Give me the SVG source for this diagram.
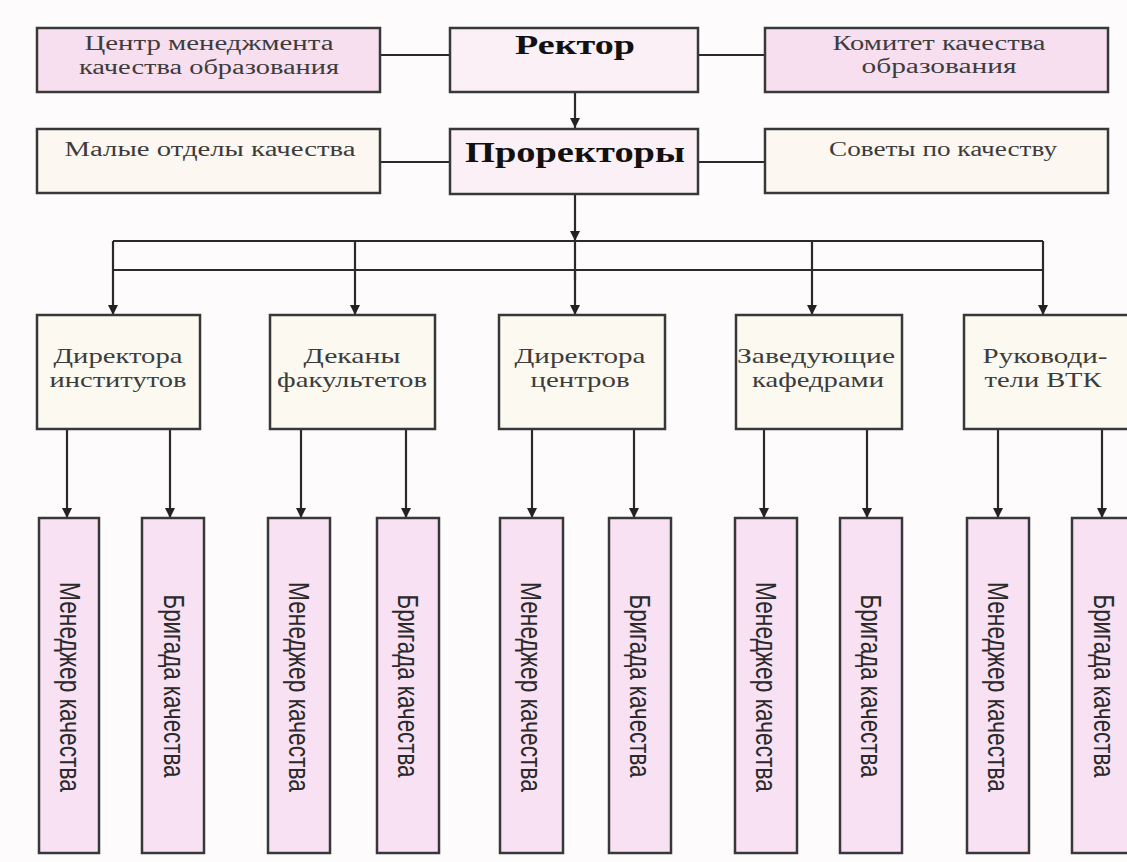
<svg xmlns="http://www.w3.org/2000/svg" width="1127" height="862" viewBox="0 0 1127 862">
<defs>
<marker id="ah" viewBox="0 0 10 10" refX="10" refY="5" markerWidth="10" markerHeight="10" markerUnits="userSpaceOnUse" orient="auto">
<path d="M0,0 L10,5 L0,10 Z" fill="#222"/>
</marker>
<style>
.box{stroke:#383838;stroke-width:2.5}
.pink{fill:#f8dff0}
.top{fill:#fbf0f5}
.cream{fill:#fcf7f0}
.mid{fill:#fbf9f0}
.leaf{fill:#f8e1f3}
.ln{stroke:#2a2a2a;stroke-width:2.2;fill:none}
.arr{stroke:#2a2a2a;stroke-width:2.2;fill:none;marker-end:url(#ah)}
.s{font-family:"Liberation Serif","Times New Roman",serif;fill:#3c3c3c;text-anchor:middle;font-size:20px}
.m{font-family:"Liberation Serif","Times New Roman",serif;fill:#3c3c3c;text-anchor:middle;font-size:21px}
.b{font-family:"Liberation Serif","Times New Roman",serif;fill:#111;text-anchor:middle;font-weight:bold}
.v{font-family:"Liberation Sans",Arial,sans-serif;fill:#2a2a2a;text-anchor:middle;font-size:22px}
</style>
</defs>
<rect width="1127" height="862" fill="#fdfbfc"/>
<g id="connectors">
<line class="ln" x1="380" y1="55" x2="450" y2="55"/>
<line class="ln" x1="698" y1="55" x2="765" y2="55"/>
<line class="ln" x1="380" y1="162" x2="450" y2="162"/>
<line class="ln" x1="698" y1="162" x2="765" y2="162"/>
<line class="arr" x1="575" y1="92" x2="575" y2="128"/>
<line class="arr" x1="575" y1="194" x2="575" y2="241"/>
<line class="ln" x1="575" y1="241" x2="575" y2="280"/>
<line class="ln" x1="113" y1="241" x2="1043" y2="241"/>
<line class="ln" x1="113" y1="270" x2="1043" y2="270"/>
<line class="arr" x1="113" y1="241" x2="113" y2="315"/>
<line class="arr" x1="355" y1="241" x2="355" y2="315"/>
<line class="arr" x1="575" y1="270" x2="575" y2="315"/>
<line class="arr" x1="812" y1="241" x2="812" y2="315"/>
<line class="arr" x1="1043" y1="241" x2="1043" y2="315"/>
<line class="arr" x1="67" y1="429" x2="67" y2="518"/>
<line class="arr" x1="170" y1="429" x2="170" y2="518"/>
<line class="arr" x1="301" y1="429" x2="301" y2="518"/>
<line class="arr" x1="406" y1="429" x2="406" y2="518"/>
<line class="arr" x1="532" y1="429" x2="532" y2="518"/>
<line class="arr" x1="634" y1="429" x2="634" y2="518"/>
<line class="arr" x1="764" y1="429" x2="764" y2="518"/>
<line class="arr" x1="867" y1="429" x2="867" y2="518"/>
<line class="arr" x1="998" y1="429" x2="998" y2="518"/>
<line class="arr" x1="1102" y1="429" x2="1102" y2="518"/>
</g>
<g id="center-qm">
<rect class="box pink" x="37" y="28" width="343" height="64"/>
<text class="s" x="209" y="50" textLength="249" lengthAdjust="spacingAndGlyphs">Центр менеджмента</text>
<text class="s" x="209" y="74" textLength="260" lengthAdjust="spacingAndGlyphs">качества образования</text>
</g>
<g id="rector">
<rect class="box top" x="450" y="28" width="248" height="64"/>
<text class="b" x="575" y="54" font-size="27" textLength="120" lengthAdjust="spacingAndGlyphs">Ректор</text>
</g>
<g id="committee">
<rect class="box pink" x="765" y="28" width="343" height="64"/>
<text class="s" x="939" y="50" textLength="213" lengthAdjust="spacingAndGlyphs">Комитет качества</text>
<text class="s" x="939" y="73" textLength="155" lengthAdjust="spacingAndGlyphs">образования</text>
</g>
<g id="small-depts">
<rect class="box cream" x="37" y="129" width="343" height="64"/>
<text class="s" x="210" y="156" textLength="291" lengthAdjust="spacingAndGlyphs">Малые отделы качества</text>
</g>
<g id="prorectors">
<rect class="box top" x="450" y="129" width="248" height="65"/>
<text class="b" x="575" y="162" font-size="30" textLength="220" lengthAdjust="spacingAndGlyphs">Проректоры</text>
</g>
<g id="councils">
<rect class="box cream" x="765" y="129" width="343" height="64"/>
<text class="s" x="943" y="156" textLength="228" lengthAdjust="spacingAndGlyphs">Советы по качеству</text>
</g>
<g id="inst-directors">
<rect class="box mid" x="37" y="315" width="163" height="114"/>
<text class="m" x="118" y="363" textLength="129" lengthAdjust="spacingAndGlyphs">Директора</text>
<text class="m" x="118" y="387" textLength="137" lengthAdjust="spacingAndGlyphs">институтов</text>
</g>
<g id="deans">
<rect class="box mid" x="270" y="315" width="165" height="114"/>
<text class="m" x="352" y="363" textLength="97" lengthAdjust="spacingAndGlyphs">Деканы</text>
<text class="m" x="352" y="387" textLength="150" lengthAdjust="spacingAndGlyphs">факультетов</text>
</g>
<g id="center-directors">
<rect class="box mid" x="499" y="315" width="166" height="114"/>
<text class="m" x="580" y="363" textLength="131" lengthAdjust="spacingAndGlyphs">Директора</text>
<text class="m" x="580" y="387" textLength="99" lengthAdjust="spacingAndGlyphs">центров</text>
</g>
<g id="chairs">
<rect class="box mid" x="736" y="315" width="166" height="114"/>
<text class="m" x="816" y="363" textLength="158" lengthAdjust="spacingAndGlyphs">Заведующие</text>
<text class="m" x="818" y="387" textLength="132" lengthAdjust="spacingAndGlyphs">кафедрами</text>
</g>
<g id="vtk-heads">
<rect class="box mid" x="964" y="315" width="168" height="114"/>
<text class="m" x="1045" y="363" textLength="125" lengthAdjust="spacingAndGlyphs">Руководи-</text>
<text class="m" x="1043" y="387" textLength="117" lengthAdjust="spacingAndGlyphs">тели ВТК</text>
</g>
<g id="manager-1">
<rect class="box leaf" x="39" y="518" width="60" height="335"/>
<text class="v" transform="translate(70,687) scale(1.3,1) rotate(90)" y="8" textLength="210" lengthAdjust="spacingAndGlyphs">Менеджер качества</text>
</g>
<g id="team-1">
<rect class="box leaf" x="142" y="518" width="62" height="335"/>
<text class="v" transform="translate(174,686) scale(1.3,1) rotate(90)" y="8" textLength="183" lengthAdjust="spacingAndGlyphs">Бригада качества</text>
</g>
<g id="manager-2">
<rect class="box leaf" x="268" y="518" width="62" height="335"/>
<text class="v" transform="translate(299,687) scale(1.3,1) rotate(90)" y="8" textLength="210" lengthAdjust="spacingAndGlyphs">Менеджер качества</text>
</g>
<g id="team-2">
<rect class="box leaf" x="377" y="518" width="62" height="335"/>
<text class="v" transform="translate(408,686) scale(1.3,1) rotate(90)" y="8" textLength="183" lengthAdjust="spacingAndGlyphs">Бригада качества</text>
</g>
<g id="manager-3">
<rect class="box leaf" x="500" y="518" width="63" height="335"/>
<text class="v" transform="translate(531,687) scale(1.3,1) rotate(90)" y="8" textLength="210" lengthAdjust="spacingAndGlyphs">Менеджер качества</text>
</g>
<g id="team-3">
<rect class="box leaf" x="609" y="518" width="62" height="335"/>
<text class="v" transform="translate(640,686) scale(1.3,1) rotate(90)" y="8" textLength="183" lengthAdjust="spacingAndGlyphs">Бригада качества</text>
</g>
<g id="manager-4">
<rect class="box leaf" x="735" y="518" width="62" height="335"/>
<text class="v" transform="translate(766,687) scale(1.3,1) rotate(90)" y="8" textLength="210" lengthAdjust="spacingAndGlyphs">Менеджер качества</text>
</g>
<g id="team-4">
<rect class="box leaf" x="840" y="518" width="62" height="335"/>
<text class="v" transform="translate(871,686) scale(1.3,1) rotate(90)" y="8" textLength="183" lengthAdjust="spacingAndGlyphs">Бригада качества</text>
</g>
<g id="manager-5">
<rect class="box leaf" x="967" y="518" width="62" height="335"/>
<text class="v" transform="translate(998,687) scale(1.3,1) rotate(90)" y="8" textLength="210" lengthAdjust="spacingAndGlyphs">Менеджер качества</text>
</g>
<g id="team-5">
<rect class="box leaf" x="1072" y="518" width="62" height="335"/>
<text class="v" transform="translate(1104,686) scale(1.3,1) rotate(90)" y="8" textLength="183" lengthAdjust="spacingAndGlyphs">Бригада качества</text>
</g>
</svg>
